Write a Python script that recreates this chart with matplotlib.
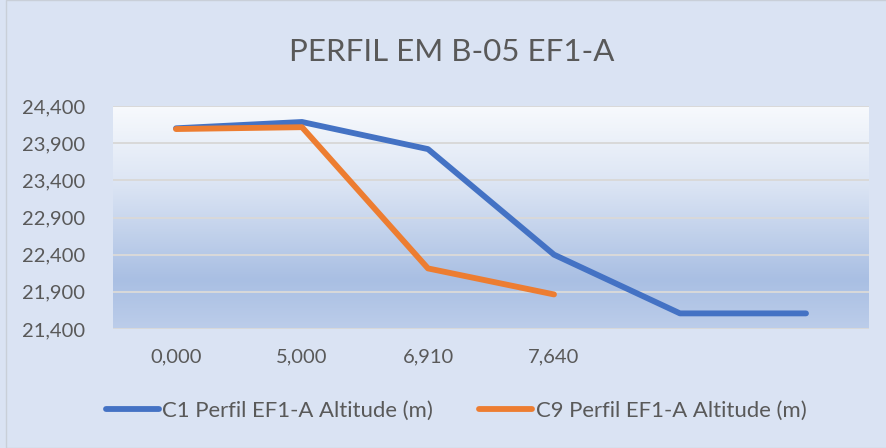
import numpy as np
import matplotlib
matplotlib.use("Agg")
import matplotlib.pyplot as plt
from matplotlib.colors import LinearSegmentedColormap
from matplotlib.patches import Rectangle

# data
categories = ["0,000", "5,000", "6,910", "7,640", "", ""]
c1_altitude = [24100, 24185, 23820, 22400, 21610, 21610]
c9_altitude = [24090, 24115, 22215, 21865]
series_names = ["C1 Perfil EF1-A Altitude (m)", "C9 Perfil EF1-A Altitude (m)"]
y_ticks = [21400, 21900, 22400, 22900, 23400, 23900, 24400]

plt.rcParams["font.family"] = ["Lato", "DejaVu Sans"]
TXT = "#595959"

fig = plt.figure(figsize=(8.86, 4.48), dpi=100, facecolor="#DAE3F3")
fig.patches.append(Rectangle((6 / 886, 0), 1, 1, transform=fig.transFigure,
                             fill=False, edgecolor="#C9CFD8", lw=1.0))

ax = fig.add_axes([113 / 886, 1 - 329 / 448, 756 / 886, 223 / 448])
ax.set_facecolor("none")

# plot-area gradient (white at top -> blue, slightly lighter at the bottom)
grad = LinearSegmentedColormap.from_list(
    "bg", [(0.0, "#F8FAFD"), (0.35, "#DCE5F4"), (0.78, "#A9BFE3"), (1.0, "#BCCDEA")])
ax.imshow(np.linspace(0, 1, 256)[:, None], aspect="auto", cmap=grad,
          extent=(-0.5, len(categories) - 0.5, y_ticks[0], y_ticks[-1]),
          zorder=0)

for y in y_ticks:
    ax.axhline(y, color="#D9D9D9", lw=1.4, zorder=1)

x1 = np.arange(len(c1_altitude))
x9 = np.arange(len(c9_altitude))
ax.plot(x1, c1_altitude, color="#4472C4", lw=4.2, solid_capstyle="round",
        solid_joinstyle="round", label=series_names[0], zorder=3)
ax.plot(x9, c9_altitude, color="#ED7D31", lw=4.2, solid_capstyle="round",
        solid_joinstyle="round", label=series_names[1], zorder=4)

ax.set_xlim(-0.5, len(categories) - 0.5)
ax.set_ylim(y_ticks[0], y_ticks[-1])
ax.set_xticks(np.arange(len(categories)))
ax.set_xticklabels(categories)
ax.set_yticks(y_ticks)
ax.set_yticklabels([f"{v:,}" for v in y_ticks])
ax.tick_params(length=0, labelsize=14.5, colors=TXT)
ax.tick_params(axis="x", pad=14)
ax.tick_params(axis="y", pad=20)
for s in ax.spines.values():
    s.set_visible(False)

fig.text(452 / 886, 1 - 52 / 448, "PERFIL EM B-05 EF1-A", ha="center",
         va="center", fontsize=22.5, color=TXT)

leg = fig.legend(loc="center", bbox_to_anchor=(456 / 886, 1 - 411 / 448),
                 ncol=2, frameon=False, fontsize=15.9, handlelength=2.4,
                 handletextpad=0.15, columnspacing=2.1)
for t in leg.get_texts():
    t.set_color(TXT)

fig.savefig("out.png", dpi=100, facecolor=fig.get_facecolor())
